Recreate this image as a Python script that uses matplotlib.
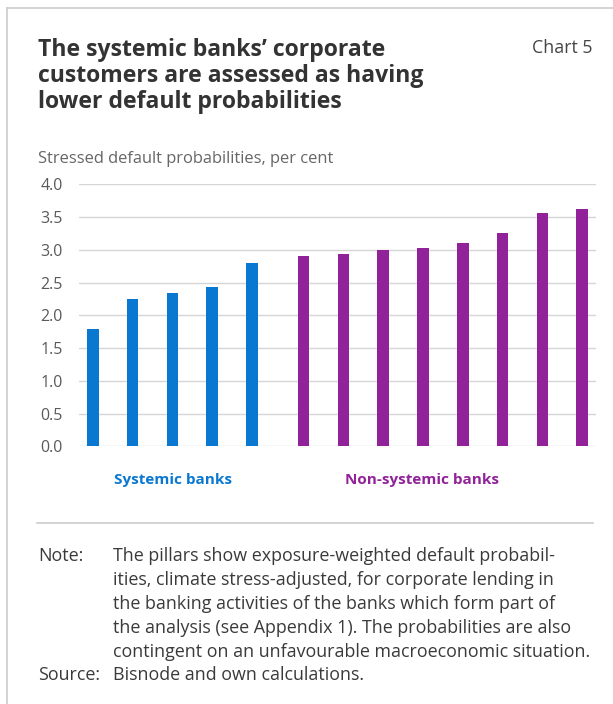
import numpy as np
import matplotlib
matplotlib.use("Agg")
import matplotlib.pyplot as plt
from matplotlib.lines import Line2D

plt.rcParams['font.family'] = ['Open Sans', 'DejaVu Sans']

# data
systemic = [1.79, 2.25, 2.34, 2.43, 2.80]
non_systemic = [2.90, 2.93, 3.00, 3.03, 3.10, 3.25, 3.56, 3.62]
yticks = [0.0, 0.5, 1.0, 1.5, 2.0, 2.5, 3.0, 3.5, 4.0]

title_lines = ["The systemic banks\u2019 corporate",
               "customers are assessed as having",
               "lower default probabilities"]
ylabel = "Stressed default probabilities, per cent"
note_lines = ["The pillars show exposure-weighted default probabil-",
              "ities, climate stress-adjusted, for corporate lending in",
              "the banking activities of the banks which form part of",
              "the analysis (see Appendix 1). The probabilities are also",
              "contingent on an unfavourable macroeconomic situation."]
source = "Bisnode and own calculations."

BLUE = '#0a78d0'
PURPLE = '#92229a'
GRID = '#d6d6d6'
W, H = 613, 704

fig = plt.figure(figsize=(W / 100, H / 100), dpi=100)

def fx(px):
    return px / W

def fy(py):
    return 1 - py / H

# frame lines (top and left)
fig.add_artist(Line2D([fx(7), 1], [fy(8), fy(8)], color='#cccccc', lw=1.2))
fig.add_artist(Line2D([fx(7), fx(7)], [fy(8), 0], color='#cccccc', lw=1.2))

# axes
ax = fig.add_axes([fx(79), fy(446.3), fx(596) - fx(79), fy(184.3) - fy(446.3)])
gap = 1.29
x_sys = np.arange(len(systemic))
x_non = len(systemic) - 1 + gap + np.arange(len(non_systemic))
ax.bar(x_sys, systemic, width=0.29, color=BLUE, zorder=3)
ax.bar(x_non, non_systemic, width=0.29, color=PURPLE, zorder=3)
ax.set_xlim(-0.347, x_non[-1] + 0.347)
ax.set_ylim(0, 4.0)
ax.set_yticks(yticks)
ax.set_yticklabels([f"{v:.1f}" for v in yticks], fontsize=11.5, color='#5a5a5a')
ax.set_xticks([])
ax.tick_params(axis='y', length=0, pad=11.5)
ax.grid(axis='y', color=GRID, lw=1, zorder=0)
for s in ax.spines.values():
    s.set_visible(False)

# title
for i, line in enumerate(title_lines):
    fig.text(fx(38), fy(56.5 + 26 * i), line, fontsize=16.6, fontweight='bold',
             color='#333333', ha='left', va='baseline')
fig.text(fx(592), fy(53), "Chart 5", fontsize=12.8, color='#444444', ha='right', va='baseline')
fig.text(fx(38), fy(159), ylabel, fontsize=11.9, color='#666666', ha='left', va='center')

fig.text(fx(172.5), fy(480), "Systemic banks", fontsize=11, fontweight='bold',
         color=BLUE, ha='center', va='center')
fig.text(fx(422), fy(480), "Non-systemic banks", fontsize=11, fontweight='bold',
         color=PURPLE, ha='center', va='center')

fig.add_artist(Line2D([fx(37), fx(593)], [fy(523.3), fy(523.3)], color='#cccccc', lw=1.2))

# note and source
fs = 12.9
fig.text(fx(38), fy(556), "Note:", fontsize=fs, color='#3a3a3a', ha='left', va='center')
for i, line in enumerate(note_lines):
    fig.text(fx(113), fy(556 + 23.9 * i), line, fontsize=fs, color='#3a3a3a',
             ha='left', va='center')
fig.text(fx(38), fy(675.5), "Source:", fontsize=fs, color='#3a3a3a', ha='left', va='center')
fig.text(fx(113), fy(675.5), source, fontsize=fs, color='#3a3a3a', ha='left', va='center')

fig.savefig('out.png', dpi=100)
